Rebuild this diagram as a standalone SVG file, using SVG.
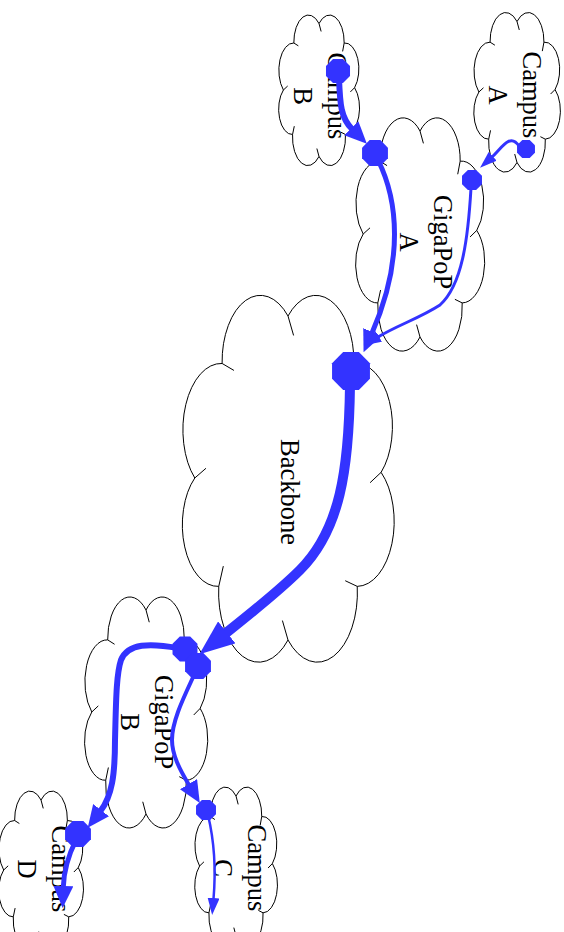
<svg xmlns="http://www.w3.org/2000/svg" xmlns:xlink="http://www.w3.org/1999/xlink" width="564" height="932" viewBox="0 0 564 932">
<style>
.cloud{fill:#fff;stroke:#000;stroke-width:1}
.lbl{font-family:"Liberation Serif","Times New Roman",serif;font-size:26.5px;fill:#000;text-anchor:middle}
.edge{fill:none;stroke:#3333ff;stroke-linecap:butt}
.rt{fill:#3333ff}
</style>
<defs>
<path id="cloud" vector-effect="non-scaling-stroke" d="M0,-1 A.41,.41 0 0 1 .707,-.707 A.39,.39 0 0 1 .999,-.035 A.4,.4 0 0 1 .743,.669 A.43,.43 0 0 1 0,1 A.43,.43 0 0 1 -.743,.669 A.38,.38 0 0 1 -1,0 A.41,.41 0 0 1 -.707,-.707 A.41,.41 0 0 1 0,-1 Z M0,-1 L.06,-.88 M.707,-.707 L.664,-.58 M.999,-.035 L.881,.029 M.743,.669 L.614,.634 M0,1 L-.06,.88 M-.743,.669 L-.694,.544 M-1,0 L-.88,-.06 M-.707,-.707 L-.58,-.664"/>
<polygon id="oct" points="0.924,0.383 0.383,0.924 -0.383,0.924 -0.924,0.383 -0.924,-0.383 -0.383,-0.924 0.383,-0.924 0.924,-0.383"/>
<marker id="arS" markerUnits="userSpaceOnUse" markerWidth="17" markerHeight="12" viewBox="0 0 17 12" refX="1" refY="6" orient="auto"><path d="M0,0 L17,6 L0,12 Z" fill="#3333ff"/></marker>
<marker id="arM" markerUnits="userSpaceOnUse" markerWidth="22" markerHeight="20" viewBox="0 0 22 20" refX="1" refY="10" orient="auto"><path d="M0,0 L22,10 L0,20 Z" fill="#3333ff"/></marker>
<marker id="arL" markerUnits="userSpaceOnUse" markerWidth="35" markerHeight="28" viewBox="0 0 35 28" refX="1" refY="14" orient="auto"><path d="M0,0 L35,14 L0,28 Z" fill="#3333ff"/></marker>
</defs>

<g id="backbone">
<use xlink:href="#cloud" href="#cloud" class="cloud" transform="translate(288,478) scale(93.2,162)"/>
<text class="lbl" transform="translate(281,492) rotate(90)">Backbone</text>
</g>
<g id="gigapop-a">
<use xlink:href="#cloud" href="#cloud" class="cloud" transform="translate(420,234) scale(56.8,103)"/>
<text class="lbl" transform="translate(434,242) rotate(90)"><tspan x="0" y="0">GigaPoP</tspan><tspan x="0" y="34">A</tspan></text>
</g>
<g id="gigapop-b">
<use xlink:href="#cloud" href="#cloud" class="cloud" transform="translate(146,712) scale(54.2,102)"/>
<text class="lbl" transform="translate(155,722) rotate(90)"><tspan x="0" y="0">GigaPoP</tspan><tspan x="0" y="34">B</tspan></text>
</g>
<g id="campus-a">
<use xlink:href="#cloud" href="#cloud" class="cloud" transform="translate(517,92) scale(38.1,70.5)"/>
<text class="lbl" transform="translate(523,95) rotate(90)"><tspan x="0" y="0">Campus</tspan><tspan x="0" y="34">A</tspan></text>
</g>
<g id="campus-b">
<use xlink:href="#cloud" href="#cloud" class="cloud" transform="translate(319,90) scale(35.6,66.5)"/>
<text class="lbl" transform="translate(328,96) rotate(90)"><tspan x="0" y="0">Campus</tspan><tspan x="0" y="34">B</tspan></text>
</g>
<g id="campus-c">
<use xlink:href="#cloud" href="#cloud" class="cloud" transform="translate(236,866) scale(36.4,70)"/>
<text class="lbl" transform="translate(248,868) rotate(90)"><tspan x="0" y="0">Campus</tspan><tspan x="0" y="34">C</tspan></text>
</g>
<g id="campus-d">
<use xlink:href="#cloud" href="#cloud" class="cloud" transform="translate(41,870) scale(37.3,70)"/>
<text class="lbl" transform="translate(52,869) rotate(90)"><tspan x="0" y="0">Campus</tspan><tspan x="0" y="34">D</tspan></text>
</g>

<g id="connectors">
<path class="edge" stroke-width="3" marker-end="url(#arS)" d="M519,146 C510,132 501,149 492,157"/>
<path class="edge" stroke-width="6" marker-end="url(#arM)" d="M339,78 C340,105 341,118 352,129"/>
<path class="edge" stroke-width="5" marker-end="url(#arM)" d="M378,160 C398,200 404,260 372,333"/>
<path class="edge" stroke-width="3" marker-end="url(#arS)" d="M471,188 C468,240 462,285 440,305 C420,318 398,325 378,337"/>
<path class="edge" stroke-width="10" marker-end="url(#arL)" d="M350,385 C349,470 340,530 300,570 C280,590 255,610 226,633"/>
<path class="edge" stroke-width="6" marker-end="url(#arM)" d="M178,648 C150,643 128,643 121,660 C116,675 116,705 115,740 C115,775 112,796 100.5,811"/>
<path class="edge" stroke-width="4" marker-end="url(#arM)" d="M195,673 C185,695 172,720 172,740 C172,755 180,770 189,785"/>
<path class="edge" stroke-width="5" marker-end="url(#arM)" d="M76,840 C70,852 64,866 63.3,887"/>
<path class="edge" stroke-width="2.5" marker-end="url(#arS)" d="M208,815 C214,840 216,870 213.5,899"/>
</g>

<g id="router-campus-a"><use xlink:href="#oct" href="#oct" class="rt" transform="translate(526,149) scale(9.7)"/></g>
<g id="router-campus-b"><use xlink:href="#oct" href="#oct" class="rt" transform="translate(338,71) scale(13)"/></g>
<g id="router-gigapop-a-1"><use xlink:href="#oct" href="#oct" class="rt" transform="translate(375,153) scale(14)"/></g>
<g id="router-gigapop-a-2"><use xlink:href="#oct" href="#oct" class="rt" transform="translate(472,180) scale(10.8)"/></g>
<g id="router-backbone"><use xlink:href="#oct" href="#oct" class="rt" transform="translate(351,371) scale(20.5)"/></g>
<g id="router-gigapop-b-1"><use xlink:href="#oct" href="#oct" class="rt" transform="translate(185,649) scale(13.5)"/></g>
<g id="router-gigapop-b-2"><use xlink:href="#oct" href="#oct" class="rt" transform="translate(198,666) scale(14)"/></g>
<g id="router-campus-c"><use xlink:href="#oct" href="#oct" class="rt" transform="translate(206,810) scale(10.8)"/></g>
<g id="router-campus-d"><use xlink:href="#oct" href="#oct" class="rt" transform="translate(78,834) scale(14)"/></g>
</svg>
